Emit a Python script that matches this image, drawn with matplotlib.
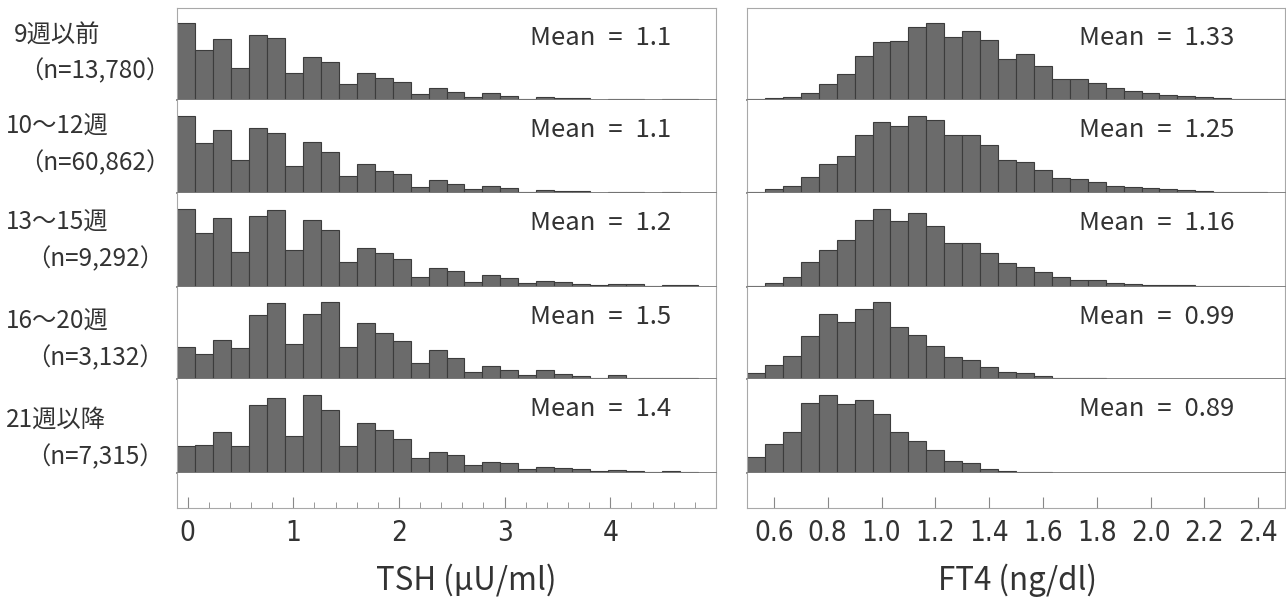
import numpy as np
import matplotlib
matplotlib.use("Agg")
from matplotlib import pyplot as plt

plt.rcParams['font.family'] = ['Noto Sans CJK JP', 'DejaVu Sans']

W, H = 1286, 597

row_labels = ["9週以前", "10～12週", "13～15週", "16～20週", "21週以降"]
n_labels = ["（n=13,780）", "（n=60,862）", "（n=9,292）", "（n=3,132）", "（n=7,315）"]

# TSH histograms (relative heights), bins of 0.17 starting at -0.1
tsh_start, tsh_width = -0.1, 0.17
tsh_w9 = [76.7, 50, 60.7, 32, 65, 62.3, 26.7, 42.7, 38.3, 15.7, 26.7, 22.3, 18, 6.3, 11.7,
          7.7, 3.3, 6.7, 4.3, 1.3, 3, 2.3, 1.7, 0.3, 1.3, 1.3, 0.3, 1, 1]
tsh_w10_12 = [76.7, 50.3, 63, 33.3, 65, 60.3, 27.3, 51, 41, 17.3, 29, 22.3, 18.7, 6.3, 12.7,
              9.3, 3.7, 7, 4.7, 1.3, 3, 2.3, 1.7, 0.3, 1, 1, 0.3, 0.7, 0.5]
tsh_w13_15 = [77.7, 53.7, 69.3, 35.3, 71, 76.7, 37.3, 67.3, 57.3, 24.7, 38.7, 34, 27.7, 10.3, 18.7,
              16.4, 5, 12.4, 9, 3.7, 6.4, 5, 3.4, 1.7, 2.7, 2.7, 0.7, 2.4, 1.7]
tsh_w16_20 = [32.3, 25.3, 39, 30.7, 63.7, 76, 35.3, 64.7, 77, 32.3, 56.3, 46, 37.7, 16, 29.3,
              21, 6.7, 13.3, 9.3, 3.7, 9, 5.3, 2.7, 1, 3.7, 0.7, 1, 1.3, 1]
tsh_w21 = [27.3, 28, 40.7, 26.7, 68.3, 75.3, 37.3, 78, 63, 27, 49.7, 42.7, 33.7, 15.3, 21,
           18, 8, 11, 9.7, 4, 6, 5.3, 4, 2, 2.7, 2.3, 0.7, 2, 1]
tsh_means = ["1.1", "1.1", "1.2", "1.5", "1.4"]

# FT4 histograms (relative heights), bins of 1/15 starting at 0.5
ft4_start, ft4_width = 0.5, 2 / 30
ft4_w9 = [1, 1.7, 3.3, 7, 16.3, 26.3, 44, 58, 59.3, 73.3, 76.7, 63.3, 68.7, 60.3, 41.3,
          45.7, 34, 21, 21, 17, 11.7, 9.3, 7, 5.3, 4.3, 3.3, 2.3, 1.3, 0.7, 0.7]
ft4_w10_12 = [1, 4, 6.7, 15.7, 28.7, 37.3, 58, 70.7, 66.7, 77.3, 73.3, 57.7, 58.3, 47.7, 32.7,
              31, 23.3, 15, 14, 10.7, 7.3, 6.3, 5, 3.7, 3.3, 2, 1.3, 1, 0.7, 0.3]
ft4_w13_15 = [1.5, 4.2, 10.3, 24.7, 37.3, 47, 67.3, 77.7, 66.3, 74, 61.5, 43.8, 44.3, 34, 24.2,
              19.7, 15.4, 10, 7.3, 6.7, 4, 3.4, 2.4, 2, 2.4, 1, 0.7, 0.7, 0.5, 0.3]
ft4_w16_20 = [6.5, 14.3, 23, 42.6, 65.3, 56.6, 70.2, 77.2, 52.5, 43.8, 32.6, 21.6, 19.3, 11.6, 7.4,
              6.3, 2.6, 1, 0.7, 0.7, 0.4, 0.3, 0.3, 0.2, 0.2, 0.2, 0.1, 0.1, 0.1, 0.1]
ft4_w21 = [16.4, 29.4, 40.7, 70.4, 78, 68.7, 73, 58.7, 40.7, 32.4, 23, 12, 10.4, 4.4, 2,
           1, 0.7, 0.3, 0.3, 0.3, 0.3, 0.2, 0.2, 0.2, 0.2, 0.1, 0.1, 0.1, 0.1, 0.1]
ft4_means = ["1.33", "1.25", "1.16", "0.99", "0.89"]

ROW_EDGES = [8, 100, 193, 287, 379, 473, 508]
FRAME = '#a8a8a8'
SEP = '#7a7a7a'
BAR = '#6b6b6b'
BAR_EDGE = '#3c3c3c'
TXT = '#333333'

fig = plt.figure(figsize=(W / 100, H / 100), dpi=100)


def add_ax(x0, x1, y0, y1):
    return fig.add_axes([x0 / W, 1 - y1 / H, (x1 - x0) / W, (y1 - y0) / H])


def draw_panel(px0, px1, start, width, series, means, xlim, text_x, major, minor, labels, xlabel, xlabel_x):
    for i, vals in enumerate(series):
        y0, y1 = ROW_EDGES[i], ROW_EDGES[i + 1]
        ax = add_ax(px0, px1, y0, y1)
        lefts = start + width * np.arange(len(vals))
        ax.bar(lefts, vals, width=width, align='edge', color=BAR, edgecolor=BAR_EDGE, linewidth=0.8)
        ax.set_xlim(*xlim)
        ax.set_ylim(0, y1 - y0)
        ax.set_xticks([])
        ax.set_yticks([])
        for s in ['left', 'right', 'top']:
            ax.spines[s].set_color(FRAME)
        ax.spines['top'].set_visible(i == 0)
        ax.spines['bottom'].set_color(SEP)
        ax.spines['bottom'].set_linewidth(1.3)
        ax.text(text_x, 1 - 30 / (y1 - y0), "Mean\u2002=\u2002" + means[i], transform=ax.transAxes,
                ha='left', va='center', fontsize=18.5, color=TXT)
    # empty strip carrying the x axis
    ax = add_ax(px0, px1, ROW_EDGES[5], ROW_EDGES[6])
    ax.set_xlim(*xlim)
    ax.set_yticks([])
    ax.spines['top'].set_visible(False)
    for s in ['left', 'right', 'bottom']:
        ax.spines[s].set_color(FRAME)
    ax.set_xticks(major)
    ax.set_xticklabels(labels, fontfamily='DejaVu Sans', fontstretch='condensed',
                       fontsize=20, color=TXT)
    ax.set_xticks(minor, minor=True)
    ax.tick_params(axis='x', which='major', direction='in', length=8, color='#888888', pad=8)
    ax.tick_params(axis='x', which='minor', direction='in', length=4, color='#888888')
    fig.text(xlabel_x / W, 1 - 580 / H, xlabel, ha='center', va='center', fontsize=22.5, color=TXT)


tsh_major = [0, 1, 2, 3, 4]
tsh_minor = [0.2, 0.4, 0.6, 0.8, 1.2, 1.4, 1.6, 1.8, 2.2, 2.4, 2.6, 2.8, 3.2, 3.4, 3.6, 3.8,
             4.2, 4.4, 4.6, 4.8]
ft4_major = [0.6, 0.8, 1.0, 1.2, 1.4, 1.6, 1.8, 2.0, 2.2, 2.4]

draw_panel(177, 716, tsh_start, tsh_width,
           [tsh_w9, tsh_w10_12, tsh_w13_15, tsh_w16_20, tsh_w21], tsh_means,
           (-0.1, 5.0), 0.655, tsh_major, tsh_minor, [str(v) for v in tsh_major],
           "TSH (μU/ml)", 466)
draw_panel(747, 1285, ft4_start, ft4_width,
           [ft4_w9, ft4_w10_12, ft4_w13_15, ft4_w16_20, ft4_w21], ft4_means,
           (0.5, 2.5), 0.617, ft4_major, [], ["%.1f" % v for v in ft4_major],
           "FT4 (ng/dl)", 1017)

# row labels on the left
line1_y = [36, 127, 223, 322, 420]
line2_y = [71, 163, 259, 358, 457]
for i in range(5):
    x1 = 14 if i == 0 else 6
    fig.text(x1 / W, 1 - line1_y[i] / H, row_labels[i], ha='left', va='center',
             fontsize=17.5, color=TXT)
    fig.text(95 / W, 1 - line2_y[i] / H, n_labels[i], ha='center', va='center',
             fontsize=17.5, color=TXT)

fig.savefig("out.png", dpi=100)
